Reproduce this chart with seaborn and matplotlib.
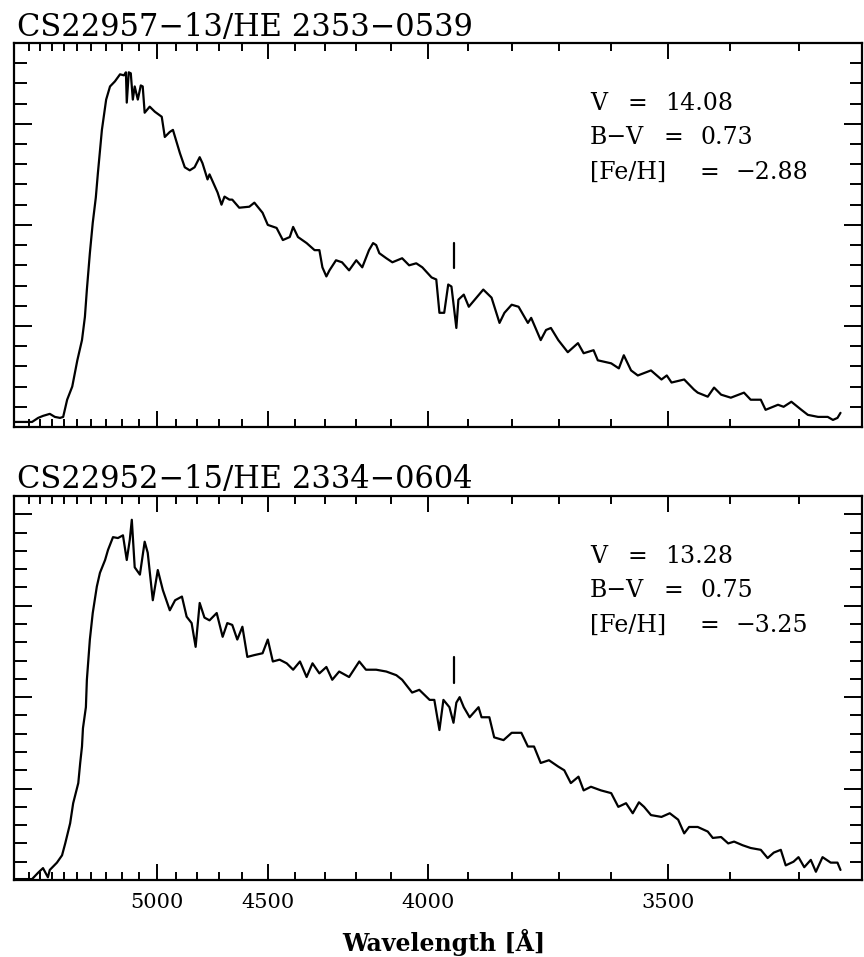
import numpy as np
import pandas as pd
import matplotlib
matplotlib.use("Agg")
import matplotlib.pyplot as plt
from matplotlib.ticker import FixedLocator, NullFormatter, FixedFormatter
import seaborn as sns

# ---------------- data ----------------
star_titles = ["CS22957\u221213/HE 2353\u22120539", "CS22952\u221215/HE 2334\u22120604"]
param_labels = ["V", "B\u2212V", "[Fe/H]"]
params_top = ["14.08", "0.73", "\u22122.88"]
params_bottom = ["13.28", "0.75", "\u22123.25"]

# Ca II K marker (wavelength, flux range)
cak_wavelength = 3933
cak_top = [1.57, 1.82]
cak_bottom = [2.15, 2.44]

major_wl = [5000, 4500, 4000, 3500]
major_labels = ["5000", "4500", "4000", "3500"]
minor_wl = [w for w in range(3300, 6000, 100) if w not in major_wl]

# spectrum of CS22957-13 (wavelength [A], relative flux)
wl_top = [6048, 5873, 5818, 5775, 5717, 5675, 5633, 5608, 5577, 5538,
          5500, 5466, 5445, 5431, 5410, 5390, 5369, 5355, 5328, 5300,
          5275, 5244, 5212, 5188, 5176, 5171, 5159, 5147, 5135, 5124,
          5106, 5089, 5078, 5067, 5039, 5011, 4974, 4958, 4932, 4916,
          4881, 4857, 4833, 4810, 4786, 4773, 4750, 4741, 4727, 4705,
          4688, 4675, 4654, 4642, 4613, 4572, 4552, 4520, 4500, 4467,
          4444, 4419, 4407, 4390, 4360, 4333, 4317, 4307, 4294, 4284,
          4263, 4244, 4222, 4200, 4182, 4162, 4150, 4141, 4132, 4112,
          4095, 4068, 4049, 4030, 4014, 3990, 3978, 3970, 3958, 3948,
          3940, 3928, 3923, 3910, 3898, 3884, 3864, 3845, 3827, 3816,
          3800, 3785, 3765, 3758, 3738, 3727, 3717, 3702, 3683, 3663,
          3652, 3633, 3625, 3600, 3586, 3577, 3564, 3552, 3529, 3511,
          3502, 3494, 3473, 3457, 3451, 3435, 3425, 3414, 3399, 3379,
          3369, 3354, 3347, 3329, 3321, 3310, 3296, 3287, 3273, 3260,
          3253, 3247, 3243]
flux_top = [0.05, 0.05, 0.09, 0.11, 0.13, 0.10, 0.09, 0.10, 0.27, 0.40,
            0.66, 0.86, 1.09, 1.36, 1.72, 2.02, 2.27, 2.51, 2.94, 3.24,
            3.37, 3.42, 3.49, 3.48, 3.51, 3.21, 3.51, 3.50, 3.24, 3.37,
            3.24, 3.38, 3.37, 3.11, 3.17, 3.12, 3.07, 2.87, 2.92, 2.94,
            2.71, 2.57, 2.54, 2.57, 2.67, 2.61, 2.45, 2.50, 2.43, 2.32,
            2.20, 2.28, 2.25, 2.25, 2.17, 2.18, 2.22, 2.12, 2.00, 1.97,
            1.85, 1.88, 1.98, 1.88, 1.82, 1.75, 1.75, 1.58, 1.49, 1.55,
            1.65, 1.63, 1.55, 1.65, 1.58, 1.75, 1.82, 1.80, 1.72, 1.67,
            1.63, 1.67, 1.60, 1.62, 1.58, 1.48, 1.46, 1.13, 1.13, 1.41,
            1.39, 0.98, 1.26, 1.31, 1.19, 1.26, 1.36, 1.28, 1.03, 1.13,
            1.21, 1.19, 1.03, 1.08, 0.86, 0.96, 0.98, 0.86, 0.74, 0.83,
            0.73, 0.76, 0.66, 0.63, 0.58, 0.71, 0.56, 0.51, 0.56, 0.47,
            0.51, 0.44, 0.47, 0.37, 0.34, 0.30, 0.39, 0.32, 0.29, 0.34,
            0.27, 0.27, 0.17, 0.22, 0.20, 0.25, 0.17, 0.12, 0.10, 0.10,
            0.07, 0.09, 0.14]

# spectrum of CS22952-15
wl_bottom = [6048, 5873, 5818, 5775, 5733, 5717, 5658, 5617, 5592, 5554,
             5531, 5493, 5479, 5466, 5459, 5438, 5431, 5410, 5390, 5362,
             5341, 5307, 5288, 5256, 5225, 5194, 5171, 5153, 5141, 5124,
             5094, 5067, 5050, 5022, 4995, 4968, 4932, 4905, 4871, 4848,
             4824, 4805, 4786, 4764, 4741, 4709, 4683, 4663, 4642, 4621,
             4600, 4580, 4552, 4520, 4500, 4481, 4456, 4430, 4407, 4383,
             4360, 4340, 4317, 4294, 4275, 4253, 4222, 4191, 4171, 4141,
             4112, 4084, 4068, 4041, 4022, 3995, 3983, 3970, 3960, 3945,
             3935, 3928, 3920, 3910, 3896, 3875, 3868, 3850, 3839, 3818,
             3800, 3779, 3765, 3752, 3738, 3721, 3702, 3690, 3677, 3662,
             3652, 3638, 3619, 3600, 3587, 3573, 3561, 3550, 3541, 3529,
             3511, 3497, 3483, 3473, 3465, 3451, 3435, 3427, 3414, 3403,
             3394, 3381, 3369, 3354, 3344, 3335, 3325, 3318, 3307, 3300,
             3292, 3283, 3276, 3267, 3256, 3247, 3243]
flux_bottom = [0.01, 0.01, 0.08, 0.13, 0.03, 0.11, 0.19, 0.27, 0.40, 0.62,
               0.84, 1.06, 1.28, 1.46, 1.66, 1.89, 2.19, 2.63, 2.92, 3.21,
               3.36, 3.50, 3.61, 3.75, 3.74, 3.77, 3.50, 3.72, 3.94, 3.42,
               3.34, 3.70, 3.58, 3.06, 3.39, 3.17, 2.95, 3.06, 3.10, 2.88,
               2.81, 2.55, 3.03, 2.87, 2.84, 2.92, 2.66, 2.81, 2.79, 2.63,
               2.77, 2.44, 2.46, 2.48, 2.63, 2.39, 2.41, 2.37, 2.30, 2.39,
               2.22, 2.37, 2.26, 2.33, 2.19, 2.28, 2.22, 2.39, 2.30, 2.30,
               2.28, 2.24, 2.19, 2.05, 2.08, 1.97, 1.97, 1.64, 1.97, 1.89,
               1.72, 1.94, 2.00, 1.89, 1.78, 1.89, 1.78, 1.78, 1.56, 1.53,
               1.61, 1.61, 1.46, 1.46, 1.28, 1.31, 1.24, 1.20, 1.06, 1.13,
               0.98, 1.02, 0.98, 0.95, 0.80, 0.84, 0.73, 0.85, 0.80, 0.71,
               0.69, 0.73, 0.66, 0.51, 0.58, 0.58, 0.53, 0.46, 0.47, 0.40,
               0.42, 0.38, 0.35, 0.33, 0.24, 0.30, 0.33, 0.16, 0.20, 0.25,
               0.14, 0.22, 0.09, 0.25, 0.19, 0.19, 0.11]

assert len(wl_top) == len(flux_top)
assert len(wl_bottom) == len(flux_bottom)


# ------------- prism-like (quadratic in 1/lambda) wavelength scale -------------
# increasing in wavelength; axis limits are given reversed (red on the left)
def _fwd(lam):
    lam = np.clip(np.asarray(lam, dtype=float), 100.0, 20000.0)
    d = 1e4 / lam - 2.0
    return -(465.5 * d + 153.0 * d * d)


def _inv(q):
    q = -np.asarray(q, dtype=float)
    disc = np.maximum(465.5 ** 2 + 612.0 * q, 0.0)
    d = (-465.5 + np.sqrt(disc)) / 306.0
    return 1e4 / (d + 2.0)


# ---------------- figure ----------------
sns.set_style("ticks")
plt.rcParams["font.family"] = ["DejaVu Serif"]
plt.rcParams["text.color"] = "black"
plt.rcParams["axes.labelcolor"] = "black"
plt.rcParams["xtick.color"] = "black"
plt.rcParams["ytick.color"] = "black"

W, H = 864, 957
fig = plt.figure(figsize=(W / 100, H / 100), dpi=100)
ax_top = fig.add_axes([14 / W, (H - 427) / H, 848 / W, 384 / H])
ax_bot = fig.add_axes([14 / W, (H - 880) / H, 848 / W, 384 / H])

panels = [
    (ax_top, wl_top, flux_top, 3.8, params_top, cak_top, star_titles[0], 36),
    (ax_bot, wl_bottom, flux_bottom, 4.2, params_bottom, cak_bottom, star_titles[1], 488),
]

for ax, wl, fl, ytop, params, cak, title, title_base in panels:
    df = pd.DataFrame({"wavelength": wl, "flux": fl})
    ax.set_xscale("function", functions=(_fwd, _inv))
    sns.lineplot(data=df, x="wavelength", y="flux", ax=ax, color="black",
                 linewidth=1.6, estimator=None, sort=False)
    ax.plot([cak_wavelength, cak_wavelength], cak, color="black", linewidth=1.6)

    ax.set_xlim(6048, 3215)
    ax.set_ylim(0, ytop)
    ax.set_xlabel("")
    ax.set_ylabel("")

    ax.xaxis.set_major_locator(FixedLocator(major_wl))
    ax.xaxis.set_minor_locator(FixedLocator(minor_wl))
    ax.xaxis.set_major_formatter(FixedFormatter(major_labels))
    ax.xaxis.set_minor_formatter(NullFormatter())
    ax.yaxis.set_major_locator(FixedLocator(np.arange(0, ytop + 0.01, 1.0)))
    ax.yaxis.set_minor_locator(FixedLocator(np.arange(0, ytop + 0.01, 0.2)))
    ax.yaxis.set_major_formatter(NullFormatter())
    ax.yaxis.set_minor_formatter(NullFormatter())

    ax.tick_params(which="both", direction="in", top=True, right=True,
                   width=1.4, color="black", labelleft=False)
    ax.tick_params(axis="x", which="major", length=11.5)
    ax.tick_params(axis="x", which="minor", length=6)
    ax.tick_params(axis="y", which="major", length=13)
    ax.tick_params(axis="y", which="minor", length=9)
    for sp in ax.spines.values():
        sp.set_visible(True)
        sp.set_linewidth(1.6)
        sp.set_color("black")

    fig.text(17 / W, 1 - title_base / H, title, fontsize=22, ha="left",
             va="baseline", color="black")

    # annotation block
    eq_x = [627, 664, 699]
    val_x = [665, 700, 735]
    base_y = [0.825, 0.736, 0.646]
    for lab, val, ex, vx, by in zip(param_labels, params, eq_x, val_x, base_y):
        ax.text((590 - 14) / 848, by, lab, transform=ax.transAxes,
                fontsize=17, va="baseline", ha="left", color="black")
        ax.text((ex - 14) / 848, by, "=", transform=ax.transAxes,
                fontsize=17, va="baseline", ha="left", color="black")
        ax.text((vx - 14) / 848, by, val, transform=ax.transAxes,
                fontsize=17, va="baseline", ha="left", color="black")

ax_top.tick_params(labelbottom=False)
ax_bot.tick_params(axis="x", which="major", labelsize=15, pad=9)

fig.text(444 / W, 1 - 942 / H, "Wavelength [\u00c5]", fontsize=17,
         fontweight="bold", ha="center", va="center", color="black")

fig.savefig("out.png", dpi=100)
